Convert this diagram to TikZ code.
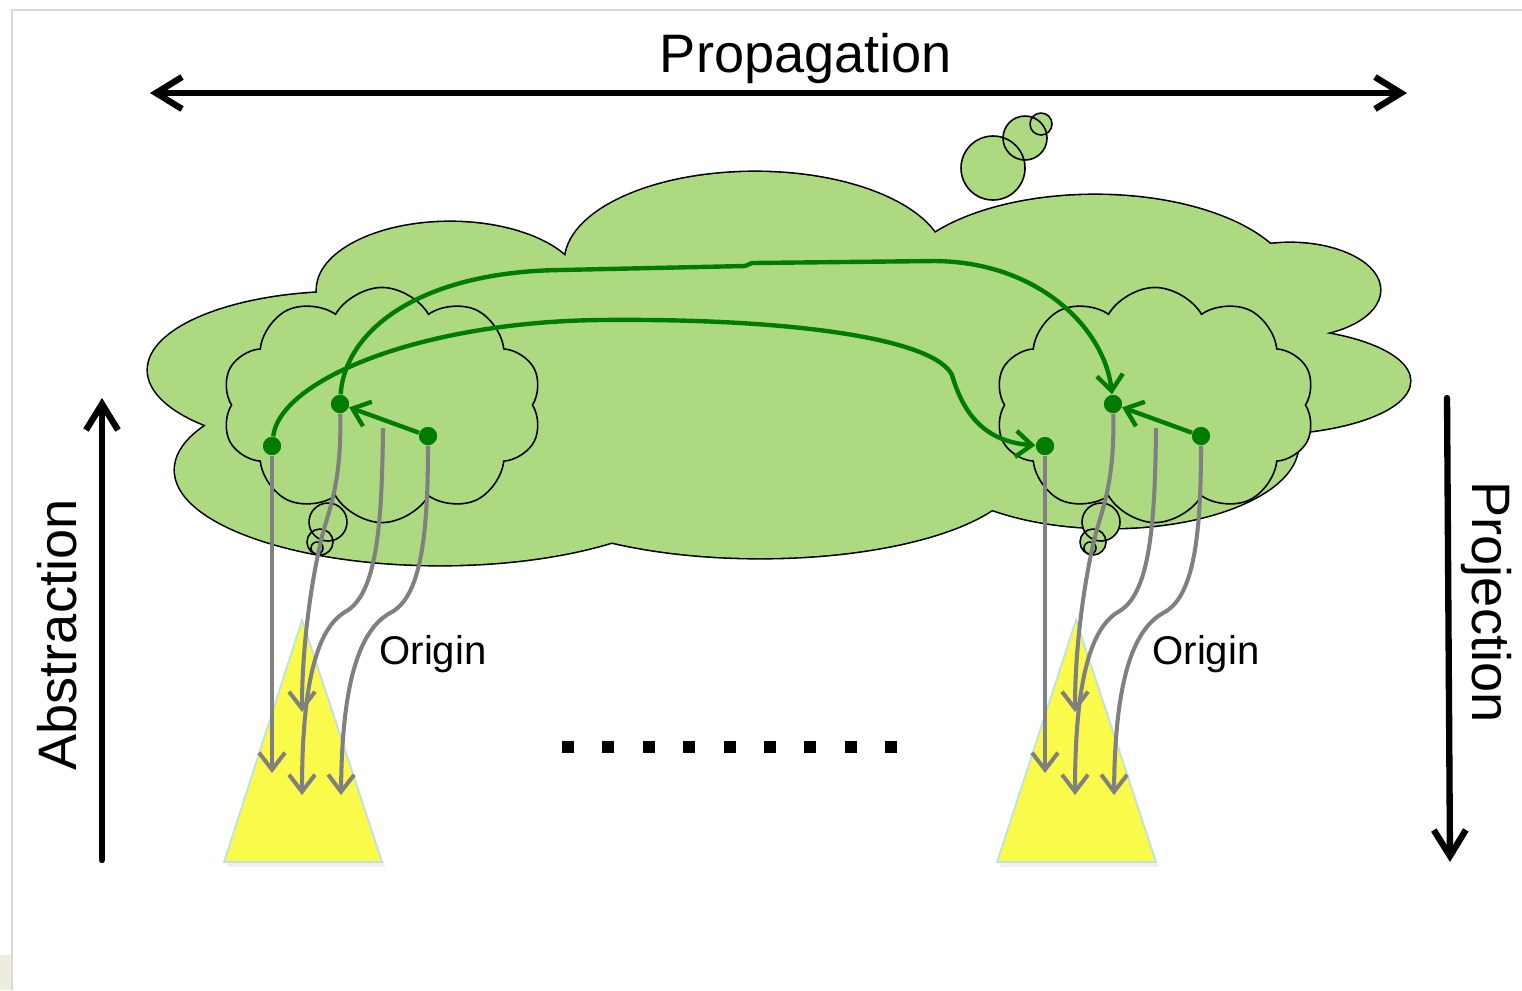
\documentclass[tikz,border=0pt]{standalone}
\usepackage{fontspec}
\setsansfont{Liberation Sans}
\usetikzlibrary{shapes.symbols,arrows.meta,shadows}
\definecolor{cloudgreen}{RGB}{173,217,128}
\definecolor{linkgreen}{RGB}{0,125,0}
\definecolor{origingray}{RGB}{128,128,128}
\definecolor{treeyellow}{RGB}{250,250,75}
\definecolor{treeedge}{RGB}{190,225,230}
\definecolor{slidebeige}{RGB}{238,236,224}

\begin{document}
\begin{tikzpicture}
            [
            x=0.01cm, y=-0.01cm,
            axislabel/.style={font={\fontsize{15.4}{18}\sffamily}},
            originlabel/.style={font={\fontsize{11.4}{14}\sffamily}},
            axis/.style={line width=1.8pt,line cap=round,
                arrows={-Straight Barb[length=2.6mm,width=3.2mm]}},
            subcloud/.style={cloud,cloud puffs=10,cloud puff arc=120,
                draw,fill=cloudgreen,line width=0.45pt,
                minimum width=3.2cm,minimum height=2.35cm},
            bubble/.style={draw,fill=cloudgreen,line width=0.45pt},
            tree/.style={fill=treeyellow,draw=treeedge,line width=0.5pt,
                drop shadow={opacity=0.12,shadow xshift=0.3mm,shadow yshift=-0.5mm}},
            fact/.style={circle,fill=linkgreen,inner sep=0pt,minimum size=1.8mm},
            link/.style={draw=linkgreen,line width=1.25pt,
                arrows={-Straight Barb[length=1.6mm,width=2.6mm]}},
            origin/.style={draw=origingray,line width=1.15pt,
                arrows={-Straight Barb[length=1.7mm,width=2.6mm]}},
            ]
            \useasboundingbox (0,0) rectangle (1522,990);
            % Slide edge
            \fill[white] (0,0) rectangle (1522,990);
            \fill[slidebeige] (0,955) rectangle (11,990);
            \draw[black!15,line width=0.8pt] (12,990) -- (12,10) -- (1522,10);

            % Axes
            \coordinate (pl) at (150,93);
            \coordinate (pr) at (1407,93);
            \coordinate (ab) at (102,860);
            \coordinate (at) at (102,398);
            \coordinate (jt) at (1447,398);
            \coordinate (jb) at (1450,862);
            \draw[axis,arrows={Straight Barb[length=2.6mm,width=3.2mm]-Straight Barb[length=2.6mm,width=3.2mm]}] (pl) -- (pr);
            \draw[axis] (ab) -- (at);
            \draw[axis] (jt) -- (jb);
            \node[axislabel,anchor=base] (prop) at (806,72) {Propagation};
            \node[axislabel,anchor=base,rotate=90] (abst) at (76,635) {Abstraction};
            \node[axislabel,anchor=base,rotate=-90] (proj) at (1472,602) {Projection};

            % Shared cloud
            \path[fill=cloudgreen,preaction={draw,line width=0.9pt}]
                (345,370) ellipse [x radius=197,y radius=78]
                (440,470) ellipse [x radius=265,y radius=95]
                (760,470) ellipse [x radius=260,y radius=88]
                (760,380) ellipse [x radius=400,y radius=120]
                (1110,445) ellipse [x radius=188,y radius=83]
                (1262,381) ellipse [x radius=148,y radius=53]
                (1290,290) ellipse [x radius=90,y radius=47]
                (1095,290) ellipse [x radius=200,y radius=95]
                (755,262) ellipse [x radius=190,y radius=90]
                (450,290) ellipse [x radius=133,y radius=68];
            \filldraw[bubble] (993,168) circle [radius=32]
                (1025,138) circle [radius=22] (1041,124) circle [radius=11];

            % Local clouds
            \node[subcloud] (lcloud) at (382,405) {};
            \node[subcloud] (rcloud) at (1155,405) {};
            \filldraw[bubble] (328,522) circle [radius=19]
                (320,542) circle [radius=13] (317,548) circle [radius=6];
            \filldraw[bubble] (1101,522) circle [radius=19]
                (1093,542) circle [radius=13] (1090,548) circle [radius=6];

            % Trees
            \path[tree] (302,620) -- (382,862) -- (224,862) -- cycle;
            \path[tree] (1076,620) -- (1156,862) -- (997,862) -- cycle;
            \node[originlabel,anchor=base] (lorigin) at (433,664) {Origin};
            \node[originlabel,anchor=base] (rorigin) at (1206,664) {Origin};

            % Facts
            \node[fact] (l1) at (272,446) {};
            \node[fact] (l2) at (340,404) {};
            \node[fact] (l3) at (428,436) {};
            \node[fact] (r1) at (1045,446) {};
            \node[fact] (r2) at (1113,404) {};
            \node[fact] (r3) at (1201,436) {};
            \coordinate (ls) at (383,428);
            \coordinate (rs) at (1156,428);

            % Origin links
            \coordinate (la) at (272,773);
            \coordinate (lb) at (302,712);
            \coordinate (lc) at (302,795);
            \coordinate (ld) at (341,795);
            \coordinate (ra) at (1045,773);
            \coordinate (rb) at (1075,712);
            \coordinate (rc) at (1075,795);
            \coordinate (rd) at (1114,795);
            \draw[origin] (l1) -- (la);
            \draw[origin] (l2) .. controls (342,490) and (326,515) .. (320,545) .. controls (310,590) and (302,650) .. (lb);
            \draw[origin] (ls) .. controls (382,530) and (376,595) .. (345,612) .. controls (318,628) and (302,680) .. (lc);
            \draw[origin] (l3) .. controls (428,540) and (420,598) .. (390,613) .. controls (360,630) and (342,680) .. (ld);
            \draw[origin] (r1) -- (ra);
            \draw[origin] (r2) .. controls (1115,490) and (1099,515) .. (1093,545) .. controls (1083,590) and (1075,650) .. (rb);
            \draw[origin] (rs) .. controls (1155,530) and (1149,595) .. (1118,612) .. controls (1091,628) and (1075,680) .. (rc);
            \draw[origin] (r3) .. controls (1201,540) and (1193,598) .. (1163,613) .. controls (1133,630) and (1115,680) .. (rd);

            % Propagation links
            \draw[link] (l3) -- (l2);
            \draw[link] (r3) -- (r2);
            \draw[link] (l1) .. controls (280,380) and (420,322) .. (600,320) .. controls (800,318) and (935,340) .. (952,375) .. controls (965,420) and (990,442) .. (r1);
            \draw[link] (l2) .. controls (345,330) and (420,272) .. (560,270) -- (745,266) -- (752,263) -- (935,261) .. controls (1040,262) and (1105,330) .. (r2);
            \node[fact] at (l1) {};
            \node[fact] at (l2) {};
            \node[fact] at (l3) {};
            \node[fact] at (r1) {};
            \node[fact] at (r2) {};
            \node[fact] at (r3) {};

            % More origins
            \fill[black] (562,741) rectangle (574,753);
            \fill[black] (602,741) rectangle (614,753);
            \fill[black] (643,741) rectangle (655,753);
            \fill[black] (683,741) rectangle (695,753);
            \fill[black] (724,741) rectangle (736,753);
            \fill[black] (764,741) rectangle (776,753);
            \fill[black] (804,741) rectangle (816,753);
            \fill[black] (845,741) rectangle (857,753);
            \fill[black] (885,741) rectangle (897,753);
        \end{tikzpicture}
\end{document}
